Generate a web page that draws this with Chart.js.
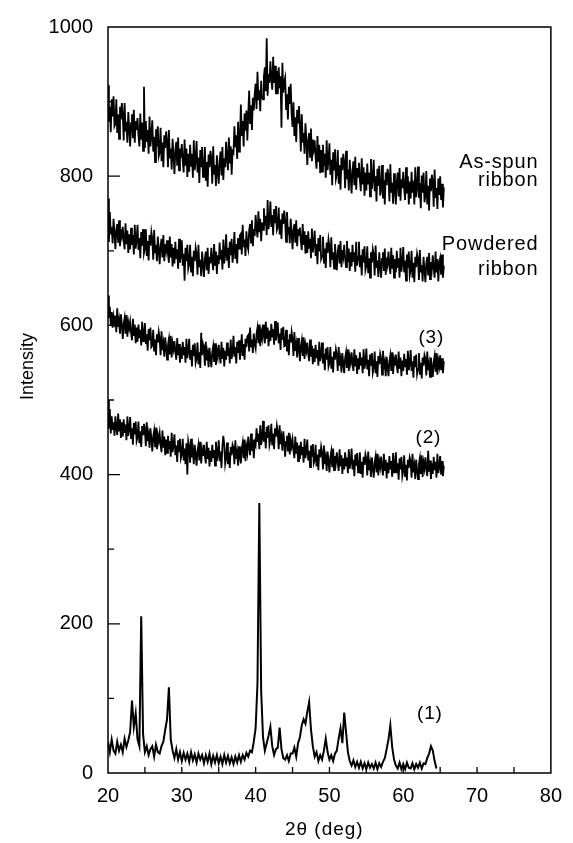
<!DOCTYPE html>
<html><head><meta charset="utf-8">
<script src="https://cdn.jsdelivr.net/npm/chart.js@4.4.1/dist/chart.umd.min.js"></script>
<style>html,body{margin:0;padding:0;background:#fff;overflow:hidden}canvas{display:block}</style>
</head><body>
<canvas id="c" width="573" height="843" style="width:573px;height:843px"></canvas>
<script>
// 2-theta grid (deg), 0.125 deg steps
const twoTheta = [
20,20.125,20.25,20.375,20.5,20.625,20.75,20.875, 21,21.125,21.25,21.375,21.5,21.625,21.75,21.875,
22,22.125,22.25,22.375,22.5,22.625,22.75,22.875, 23,23.125,23.25,23.375,23.5,23.625,23.75,23.875,
24,24.125,24.25,24.375,24.5,24.625,24.75,24.875, 25,25.125,25.25,25.375,25.5,25.625,25.75,25.875,
26,26.125,26.25,26.375,26.5,26.625,26.75,26.875, 27,27.125,27.25,27.375,27.5,27.625,27.75,27.875,
28,28.125,28.25,28.375,28.5,28.625,28.75,28.875, 29,29.125,29.25,29.375,29.5,29.625,29.75,29.875,
30,30.125,30.25,30.375,30.5,30.625,30.75,30.875, 31,31.125,31.25,31.375,31.5,31.625,31.75,31.875,
32,32.125,32.25,32.375,32.5,32.625,32.75,32.875, 33,33.125,33.25,33.375,33.5,33.625,33.75,33.875,
34,34.125,34.25,34.375,34.5,34.625,34.75,34.875, 35,35.125,35.25,35.375,35.5,35.625,35.75,35.875,
36,36.125,36.25,36.375,36.5,36.625,36.75,36.875, 37,37.125,37.25,37.375,37.5,37.625,37.75,37.875,
38,38.125,38.25,38.375,38.5,38.625,38.75,38.875, 39,39.125,39.25,39.375,39.5,39.625,39.75,39.875,
40,40.125,40.25,40.375,40.5,40.625,40.75,40.875, 41,41.125,41.25,41.375,41.5,41.625,41.75,41.875,
42,42.125,42.25,42.375,42.5,42.625,42.75,42.875, 43,43.125,43.25,43.375,43.5,43.625,43.75,43.875,
44,44.125,44.25,44.375,44.5,44.625,44.75,44.875, 45,45.125,45.25,45.375,45.5,45.625,45.75,45.875,
46,46.125,46.25,46.375,46.5,46.625,46.75,46.875, 47,47.125,47.25,47.375,47.5,47.625,47.75,47.875,
48,48.125,48.25,48.375,48.5,48.625,48.75,48.875, 49,49.125,49.25,49.375,49.5,49.625,49.75,49.875,
50,50.125,50.25,50.375,50.5,50.625,50.75,50.875, 51,51.125,51.25,51.375,51.5,51.625,51.75,51.875,
52,52.125,52.25,52.375,52.5,52.625,52.75,52.875, 53,53.125,53.25,53.375,53.5,53.625,53.75,53.875,
54,54.125,54.25,54.375,54.5,54.625,54.75,54.875, 55,55.125,55.25,55.375,55.5,55.625,55.75,55.875,
56,56.125,56.25,56.375,56.5,56.625,56.75,56.875, 57,57.125,57.25,57.375,57.5,57.625,57.75,57.875,
58,58.125,58.25,58.375,58.5,58.625,58.75,58.875, 59,59.125,59.25,59.375,59.5,59.625,59.75,59.875,
60,60.125,60.25,60.375,60.5,60.625,60.75,60.875, 61,61.125,61.25,61.375,61.5,61.625,61.75,61.875,
62,62.125,62.25,62.375,62.5,62.625,62.75,62.875, 63,63.125,63.25,63.375,63.5,63.625,63.75,63.875,
64,64.125,64.25,64.375,64.5,64.625,64.75,64.875, 65,65.125,65.25,65.375,65.5];

const asSpun = [
922,873,893,859,903,880,907,867, 870,903,858,883,850,893,876,898,
882,848,898,860,873,845,886,864, 840,871,883,851,889,845,874,862,
878,855,840,884,849,872,834,920, 838,874,846,862,830,880,840,854,
875,833,853,819,863,840,867,827, 832,865,820,845,812,855,838,860,
846,812,862,824,837,809,850,828, 803,834,846,814,852,808,837,825,
843,820,805,849,814,837,799,830, 806,842,814,830,798,848,808,822,
847,805,825,791,835,812,839,799, 806,839,794,819,786,829,812,834,
824,790,840,802,815,787,828,806, 790,821,833,801,839,795,824,812,
846,823,808,852,817,840,802,833, 831,867,839,855,823,873,833,847,
896,854,874,840,884,861,888,848, 882,915,870,895,862,905,888,910,
924,890,940,902,915,887,928,906, 903,934,946,914,985,908,937,925,
954,931,916,960,925,948,910,941, 910,946,918,934,865,952,912,926,
932,890,910,876,920,897,924,884, 866,899,854,879,846,889,872,894,
867,833,883,845,858,830,871,849, 815,846,858,826,864,820,849,837,
848,825,810,854,819,842,804,835, 806,842,814,830,798,848,808,822,
844,802,822,788,832,809,836,796, 802,835,790,815,782,825,808,830,
818,784,834,796,809,781,822,800, 777,808,820,788,826,782,811,799,
818,795,780,824,789,812,774,805, 781,817,789,805,773,823,783,797,
822,780,800,766,810,787,814,774, 782,815,770,795,762,805,788,810,
800,766,816,778,791,763,804,782, 762,793,805,773,811,767,796,784,
806,783,768,812,777,800,762,793, 770,806,778,794,762,812,772,786,
813,771,791,757,801,778,805,765, 774,807,762,787,754,797,780,802,
793,759,809,771,784,756,797,775, 800,768,790,758,785];

const powdered = [
770,712,752,722,732,710,743,725, 702,727,736,711,741,706,729,720,
732,714,702,737,709,727,697,722, 702,731,708,721,695,735,703,715,
735,701,717,690,725,707,729,697, 703,729,693,713,687,721,707,725,
716,688,728,698,708,686,719,701, 682,707,716,691,721,686,709,700,
714,696,684,719,691,709,679,704, 683,712,689,702,676,716,684,696,
714,680,696,660,704,686,708,676, 682,708,672,692,666,700,686,704,
696,668,708,678,688,666,699,681, 665,690,699,674,704,669,692,683,
704,686,674,709,681,699,669,694, 682,711,688,701,675,715,683,695,
722,688,704,677,712,694,716,684, 699,725,689,709,683,717,703,721,
723,695,735,705,715,693,726,708, 702,727,736,711,741,706,729,720,
748,730,718,753,725,743,713,738, 728,757,734,747,721,768,729,741,
766,732,748,721,756,738,760,728, 732,758,722,742,716,750,736,754,
740,712,752,722,732,710,743,725, 702,727,736,711,741,706,729,720,
731,713,701,736,708,726,696,721, 697,726,703,716,690,730,698,710,
727,693,709,682,717,699,721,689, 693,719,683,703,677,711,697,715,
706,678,718,688,698,676,709,691, 674,699,708,683,713,678,701,692,
708,690,678,713,685,703,673,698, 679,708,685,698,672,712,680,692,
712,678,694,667,702,684,706,674, 680,706,670,690,664,698,684,702,
695,667,707,677,687,665,698,680, 664,689,698,673,703,668,691,682,
699,681,669,704,676,694,664,689, 671,700,677,690,664,704,672,684,
705,671,687,660,695,677,699,667, 674,700,664,684,658,692,678,696,
689,661,701,671,681,659,692,674, 658,683,692,667,697,662,685,676,
694,676,664,699,671,689,659,684, 690,668,695,664,680];

const sample3 = [
640,610,625,600,618,597,612,604, 613,591,623,598,607,589,615,601,
582,602,610,589,614,585,604,596, 605,590,580,609,586,601,576,597,
578,601,583,594,573,605,579,588, 603,575,588,566,595,580,597,571,
573,594,565,581,560,588,577,591, 582,560,592,567,576,558,584,570,
554,574,582,561,586,557,576,568, 579,564,554,583,560,575,550,571,
555,578,560,571,550,582,556,565, 582,554,567,545,574,559,576,550,
556,577,548,564,543,590,560,574, 568,546,578,553,562,544,570,556,
544,564,572,551,576,547,566,558, 574,559,549,578,555,570,545,566,
554,577,559,570,549,581,555,564, 586,558,571,549,578,563,580,554,
567,588,559,575,554,582,571,585, 587,565,597,572,581,563,589,575,
569,589,597,576,601,572,591,583, 601,586,576,605,582,597,572,593,
579,602,584,595,574,606,580,589, 604,576,589,567,596,581,598,572,
573,594,565,581,560,588,577,591, 581,559,591,566,575,557,583,569,
552,572,580,559,584,555,574,566, 577,562,552,581,558,573,548,569,
551,574,556,567,546,578,552,561, 577,549,562,540,569,554,571,545,
550,571,542,558,537,565,554,568, 561,539,571,546,555,537,563,549,
536,556,564,543,568,539,558,550, 564,549,539,568,545,560,535,556,
541,564,546,557,536,568,542,551, 569,541,554,532,561,546,563,537,
544,565,536,552,531,559,548,562, 556,534,566,541,550,532,558,544,
532,552,560,539,564,535,554,546, 561,546,536,565,542,557,532,553,
539,562,544,555,534,566,540,549, 567,539,552,530,559,544,561,535,
542,563,534,550,529,557,546,560, 555,533,565,540,549,531,557,543,
531,551,559,538,563,534,553,545, 560,540,556,536,552];

const sample2 = [
500,462,488,455,478,460,470,452, 478,463,453,482,459,474,449,470,
451,474,456,467,446,478,452,461, 477,449,462,440,469,454,471,445,
450,471,442,458,437,465,454,468, 460,438,470,445,454,436,462,448,
431,451,459,438,463,434,453,445, 455,440,430,459,436,451,426,447,
429,452,434,445,424,456,430,439, 454,426,439,417,446,431,448,422,
427,448,419,435,414,442,400,445, 438,416,448,423,432,414,440,426,
412,432,440,419,444,415,434,426, 440,425,415,444,421,436,411,432,
417,440,422,433,412,444,418,427, 446,418,431,409,438,452,440,414,
422,443,414,430,409,437,426,440, 436,414,446,421,430,412,438,424,
415,435,443,422,447,418,437,429, 451,436,426,455,432,447,422,443,
439,462,444,455,434,466,440,449, 472,444,457,435,464,449,466,440,
447,468,439,455,434,462,451,465, 456,434,466,441,450,432,458,444,
424,444,452,431,456,427,446,438, 447,432,422,451,428,443,418,439,
421,444,426,437,416,448,422,431, 447,419,432,410,439,424,441,415,
419,440,411,427,406,434,423,437, 429,407,439,414,423,405,431,417,
403,423,431,410,435,406,425,417, 430,415,405,434,411,426,401,422,
407,430,412,423,402,434,408,417, 435,407,420,398,427,412,429,403,
409,430,401,417,396,424,413,427, 421,399,431,406,415,397,423,409,
396,416,424,403,428,399,418,410, 424,409,399,428,405,420,395,416,
402,425,407,418,397,429,403,412, 430,402,415,393,422,407,424,398,
405,426,397,413,392,420,409,423, 418,396,428,403,412,394,420,406,
394,414,422,401,426,397,416,408, 423,408,398,432,404,419,394,415,
401,424,406,417,396,428,402,411, 425,400,418,398,412];

// crystallised sample (1), sampled every 0.25 deg (every 2nd grid point)
const sample1 = [
42,28,45,30, 26,42,30,38, 28,46,35,44, 55,97,62,80, 45,36,210,52,
28,36,24,32, 36,22,38,28, 26,36,42,58, 72,115,45,30, 20,32,18,28,
16,27,18,26, 15,28,17,25, 14,26,18,24, 13,24,15,26, 12,23,14,24,
13,22,12,24, 14,23,13,21, 12,22,14,24, 15,24,18,27, 22,30,28,42,
60,120,362,110, 48,30,40,50, 62,36,24,32, 34,61,32,20, 18,24,16,26,
26,34,22,40, 48,64,72,66, 82,95,58,36, 22,28,16,24, 18,30,46,28,
18,24,16,26, 30,46,60,40, 81,55,28,16, 10,17,8,15, 7,15,6,13,
5,14,7,12, 6,14,5,13, 8,15,20,32, 45,64,35,18, 10,6,14,5,
12,5,14,7, 6,13,5,12, 7,14,6,13, 12,20,26,36, 30,16,6];

const xTickLabels = [20,30,40,50,60,70,80];
const yTickLabels = [0,200,400,600,800,1000];
const seriesNames = ['As-spun ribbon','Powdered ribbon','(3)','(2)','(1)'];

const FONT = "'Liberation Sans', Arial, Helvetica, sans-serif";

function pts(vals, stride){ return vals.map((v,i)=>({x:twoTheta[i*stride], y:v})); }

const allSeries = [[asSpun,1],[powdered,1],[sample3,1],[sample2,1],[sample1,2]];

const frameAndText = {
  id:'frameAndText',
  afterDraw(chart){
    const {ctx, chartArea:a, scales:{x,y}} = chart;
    ctx.save();
    ctx.strokeStyle='#000'; ctx.lineWidth=1.5;
    ctx.strokeRect(a.left, a.top, a.right-a.left, a.bottom-a.top);
    ctx.lineWidth=1.3;
    ctx.beginPath();
    for(let v=25; v<80; v+=5){
      const px = x.getPixelForValue(v);
      ctx.moveTo(px, a.bottom); ctx.lineTo(px, a.bottom-6);
    }
    for(let v=100; v<1000; v+=100){
      const py = y.getPixelForValue(v);
      const len = (v%200===0) ? 12 : 6;
      ctx.moveTo(a.left, py); ctx.lineTo(a.left+len, py);
    }
    ctx.stroke();
    ctx.fillStyle='#000';
    ctx.textBaseline='middle';
    ctx.font = "18px " + FONT;
    ctx.textAlign='center';
    ctx.save();
    ctx.translate(28, y.getPixelForValue(545));
    ctx.rotate(-Math.PI/2);
    ctx.fillText('Intensity', 0, 0);
    ctx.restore();
    ctx.font = "19px " + FONT;
    ctx.letterSpacing = '1px';
    ctx.fillText('2\u03B8 (deg)', x.getPixelForValue(49.3), 830);
    ctx.font = "20px " + FONT;
    ctx.letterSpacing = '0.8px';
    ctx.textAlign='right';
    const rx = x.getPixelForValue(78.3);
    ctx.fillText('As-spun', rx, y.getPixelForValue(818));
    ctx.fillText('ribbon', rx, y.getPixelForValue(794));
    ctx.fillText('Powdered', rx, y.getPixelForValue(709));
    ctx.fillText('ribbon', rx, y.getPixelForValue(675));
    ctx.font = "19px " + FONT;
    ctx.textAlign='center';
    ctx.fillText('(3)', x.getPixelForValue(63.8), y.getPixelForValue(583));
    ctx.fillText('(2)', x.getPixelForValue(63.4), y.getPixelForValue(449));
    ctx.fillText('(1)', x.getPixelForValue(63.6), y.getPixelForValue(80));
    ctx.restore();
  }
};

new Chart(document.getElementById('c'), {
  type:'line',
  data:{
    datasets: allSeries.map(([s,stride],i)=>({
      label: seriesNames[i],
      data: pts(s, stride),
      borderColor:'#000',
      borderWidth: i===4 ? 2 : 1.8,
      pointRadius:0,
      tension:0,
      fill:false
    }))
  },
  options:{
    responsive:false,
    animation:false,
    devicePixelRatio:1,
    layout:{padding:{top:18,right:17,left:0,bottom:0}},
    plugins:{legend:{display:false}, tooltip:{enabled:false}},
    scales:{
      x:{
        type:'linear', min:20, max:80,
        afterBuildTicks:s=>{ s.ticks = xTickLabels.map(v=>({value:v})); },
        ticks:{font:{size:20,family:FONT}, color:'#000', padding:11, maxRotation:0, autoSkip:false, callback:v=>String(v)},
        grid:{display:false, drawTicks:false},
        border:{display:false},
        afterFit:s=>{ s.height = 70; }
      },
      y:{
        type:'linear', min:0, max:1000,
        afterBuildTicks:s=>{ s.ticks = yTickLabels.map(v=>({value:v})); },
        ticks:{font:{size:20,family:FONT}, color:'#000', padding:15, autoSkip:false, callback:v=>String(v)},
        grid:{display:false, drawTicks:false},
        border:{display:false},
        afterFit:s=>{ s.width = 108; }
      }
    }
  },
  plugins:[frameAndText]
});
</script>
</body></html>
